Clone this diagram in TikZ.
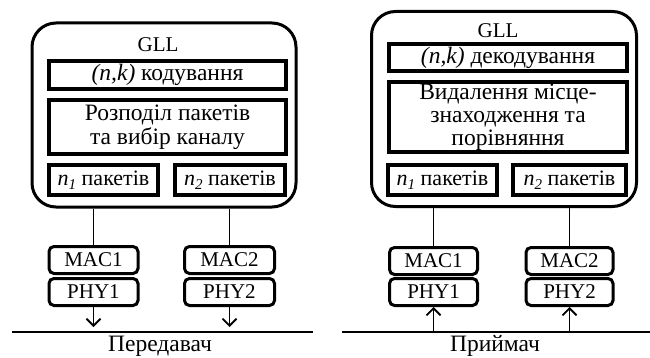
\documentclass[tikz,border=0pt]{standalone}
\usepackage{fontspec}
\setmainfont{Liberation Serif}
\usetikzlibrary{arrows.meta}
\newcommand{\nsub}[1]{{\itshape n}\raisebox{-0.35ex}{\fontsize{15}{15}\selectfont\itshape #1}}
\begin{document}
\begin{tikzpicture}[x=1pt,y=-1pt,
  font=\fontsize{23.5}{24}\selectfont,
  lat/.style={font=\fontsize{21}{24}\selectfont},
  nfont/.style={font=\fontsize{22}{24}\selectfont},
  outer/.style={draw,line width=3pt,rounded corners=24pt,inner sep=0pt},
  inbox/.style={draw,line width=4pt,inner sep=0pt,align=center},
  layer/.style={draw,line width=3pt,rounded corners=5pt,inner sep=0pt,lat},
  conn/.style={line width=1.8pt},
  arr/.style={line width=1.8pt,-{Straight Barb[length=7pt,width=14pt,line width=1.8pt]}}]
\useasboundingbox (0,0) rectangle (650,358);
% ---------- left: transmitter
\node[outer,minimum width=264,minimum height=184] (outerL) at (164,115) {};
\node[lat] (gllL) at (158,45) {GLL};
\node[inbox,minimum width=237,minimum height=28] (kL) at (167.5,75) {{\itshape (n,k)} кодування};
\node[inbox,minimum width=237,minimum height=54] (rL) at (167.5,127) {Розподіл пакетів\\та вибір каналу};
\node[inbox,nfont,minimum width=109,minimum height=30] (n1L) at (103.5,180) {\nsub{1} пакетів};
\node[inbox,nfont,minimum width=110,minimum height=30] (n2L) at (230,180) {\nsub{2} пакетів};
\node[layer,minimum width=89,minimum height=27] (macL1) at (93.5,260) {MAC1};
\node[layer,minimum width=89,minimum height=27] (phyL1) at (93.5,292) {PHY1};
\node[layer,minimum width=90,minimum height=27] (macL2) at (229.5,260) {MAC2};
\node[layer,minimum width=90,minimum height=27] (phyL2) at (229.5,292) {PHY2};
\draw[conn] (outerL.south -| macL1.north) -- (macL1.north);
\draw[conn] (outerL.south -| macL2.north) -- (macL2.north);
\coordinate (aL1) at (93.5,327);
\coordinate (aL2) at (229.5,327);
\draw[arr] (phyL1.south) -- (aL1);
\draw[arr] (phyL2.south) -- (aL2);
\coordinate (hL1) at (12,332);
\coordinate (hL2) at (313,332);
\draw[conn] (hL1) -- (hL2);
\node (txL) at (160,346) {Передавач};
% ---------- right: receiver
\node[outer,minimum width=265,minimum height=195] (outerR) at (504,109) {};
\node[lat] (gllR) at (498,31) {GLL};
\node[inbox,minimum width=238,minimum height=27] (kR) at (508,57.5) {{\itshape (n,k)} декодування};
\node[inbox,minimum width=238,minimum height=70,font=\fontsize{23.5}{23}\selectfont] (rR) at (508,117) {Видалення місце-\\знаходження та\\порівняння};
\node[inbox,nfont,minimum width=109,minimum height=30] (n1R) at (442.5,180) {\nsub{1} пакетів};
\node[inbox,nfont,minimum width=113,minimum height=30] (n2R) at (569.5,180) {\nsub{2} пакетів};
\node[layer,minimum width=88,minimum height=27] (macR1) at (433.5,261) {MAC1};
\node[layer,minimum width=88,minimum height=27] (phyR1) at (433.5,292) {PHY1};
\node[layer,minimum width=87,minimum height=27] (macR2) at (569.5,261) {MAC2};
\node[layer,minimum width=87,minimum height=27] (phyR2) at (569.5,292) {PHY2};
\draw[conn] (outerR.south -| macR1.north) -- (macR1.north);
\draw[conn] (outerR.south -| macR2.north) -- (macR2.north);
\coordinate (hR1) at (342,332);
\coordinate (hR2) at (650,332);
\draw[conn] (hR1) -- (hR2);
\draw[arr] (hR1 -| phyR1.south) -- (phyR1.south);
\draw[arr] (hR1 -| phyR2.south) -- (phyR2.south);
\node (txR) at (495,346) {Приймач};
\end{tikzpicture}
\end{document}
